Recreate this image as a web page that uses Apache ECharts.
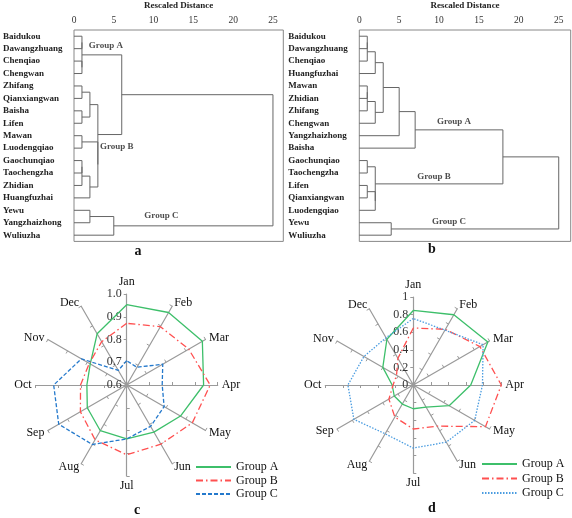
<!DOCTYPE html>
<html><head><meta charset="utf-8">
<script src="https://cdn.jsdelivr.net/npm/echarts@6/dist/echarts.min.js"></script>
<style>html,body{margin:0;padding:0;background:#fff}#c{width:572px;height:518px}</style>
</head><body><div id="c"></div>
<script>
// ---------- data ----------
const ticksDist = [0, 5, 10, 15, 20, 25];
const sitesA = ['Baidukou','Dawangzhuang','Chenqiao','Chengwan','Zhifang','Qianxiangwan','Baisha','Lifen','Mawan','Luodengqiao','Gaochunqiao','Taochengzha','Zhidian','Huangfuzhai','Yewu','Yangzhaizhong','Wuliuzha'];
// merges: [left, right, rescaled distance]; strings = sites, numbers = earlier merge index
const mergesA = [
  ['Baidukou','Dawangzhuang',1], ['Chenqiao','Chengwan',1], [0,1,1],
  ['Zhifang','Qianxiangwan',1], ['Baisha','Lifen',1], [3,4,2],
  ['Mawan','Luodengqiao',1], ['Gaochunqiao','Taochengzha',1], [7,'Zhidian',1], [8,'Huangfuzhai',2],
  [6,9,3], [5,10,3], [2,11,6],
  ['Yewu','Yangzhaizhong',2], [13,'Wuliuzha',5], [12,14,25]
];
const groupsA = [['Group A',2],['Group B',11],['Group C',14]];

const sitesB = ['Baidukou','Dawangzhuang','Chenqiao','Huangfuzhai','Mawan','Zhidian','Zhifang','Chengwan','Yangzhaizhong','Baisha','Gaochunqiao','Taochengzha','Lifen','Qianxiangwan','Luodengqiao','Yewu','Wuliuzha'];
const mergesB = [
  ['Baidukou','Dawangzhuang',1], [0,'Chenqiao',1], [1,'Huangfuzhai',2],
  ['Mawan','Zhidian',1], [3,'Zhifang',1], [4,'Chengwan',2],
  [2,5,3], [6,'Yangzhaizhong',5], [7,'Baisha',7],
  ['Gaochunqiao','Taochengzha',1], ['Lifen','Qianxiangwan',1], [10,'Luodengqiao',2], [9,11,2],
  [8,12,18], ['Yewu','Wuliuzha',4], [13,14,25]
];
const groupsB = [['Group A',8],['Group B',12],['Group C',14]];

const months = ['Jan','Feb','Mar','Apr','May','Jun','Jul','Aug','Sep','Oct','Nov','Dec'];
const groupNames = ['Group A','Group B','Group C'];
const cGroupA = [0.953,0.968,0.984,0.938,0.873,0.839,0.837,0.832,0.800,0.775,0.785,0.860];
const cGroupB = [0.871,0.896,0.915,0.967,0.933,0.900,0.907,0.878,0.835,0.803,0.790,0.820];
const cGroupC = [0.707,0.690,0.783,0.756,0.790,0.810,0.837,0.902,0.945,0.921,0.830,0.674];
const cScale = [0.6, 1.0];
const dGroupA = [0.847,0.922,0.978,0.653,0.470,0.290,0.270,0.250,0.250,0.240,0.400,0.600];
const dGroupB = [0.648,0.730,0.874,1.000,0.947,0.540,0.500,0.420,0.320,0.230,0.220,0.350];
const dGroupC = [0.756,0.720,0.916,0.786,0.805,0.750,0.717,0.640,0.780,0.743,0.648,0.620];
const dScale = [0, 1];

// ---------- helpers ----------
function buildTree(sites, merges) {
  const pos = {}; sites.forEach((s, i) => pos[s] = i);
  const nodes = [], segs = [], parentH = [];
  const get = ref => typeof ref === 'string' ? {y: pos[ref], h: 0} : nodes[ref];
  merges.forEach(([l, r, h]) => {
    const L = get(l), R = get(r);
    segs.push([h, L.y, R.y, L.h, R.h]);
    nodes.push({y: (L.y + R.y) / 2, h: h});
    [l, r].forEach(ref => { if (typeof ref === 'number') parentH[ref] = h; });
  });
  return {segs, nodes, parentH};
}
const SERIF = 'Liberation Serif, Times New Roman, serif';
const treeA = buildTree(sitesA, mergesA);
const treeB = buildTree(sitesB, mergesB);

function groupLabels(tree, groups, offsets) {
  return groups.map(([name, idx], k) => ({
    name: name,
    value: [(tree.nodes[idx].h + tree.parentH[idx]) / 2, tree.nodes[idx].y],
    label: {offset: offsets[k]}
  }));
}

function dendroAxes(gi, sites, xmax) {
  return {
    x: {
      type: 'value', gridIndex: gi, position: 'top', min: 0, max: xmax, interval: 5,
      name: 'Rescaled Distance', nameLocation: 'middle', nameGap: 20,
      nameTextStyle: {fontFamily: SERIF, fontWeight: 'bold', fontSize: 9, color: '#222'},
      axisLine: {show: false}, axisTick: {show: false}, splitLine: {show: false},
      axisLabel: {fontFamily: SERIF, fontSize: 9.5, color: '#333', margin: 5, showMaxLabel: false,
        formatter: v => ticksDist.indexOf(v) >= 0 ? String(v) : ''}
    },
    yCat: {
      type: 'category', gridIndex: gi, data: sites, inverse: true, boundaryGap: true,
      axisLine: {show: false}, axisTick: {show: false},
      axisLabel: {align: 'left', margin: 71, fontFamily: SERIF, fontWeight: 'bold', fontSize: 9, color: '#222', interval: 0}
    },
    yVal: {type: 'value', gridIndex: gi, min: -0.5, max: sites.length - 0.5, inverse: true, show: false}
  };
}
const axA = dendroAxes(0, sitesA, 26.3);
const axB = dendroAxes(1, sitesB, 26.5);

function renderDendro(params, api) {
  const h = api.value(0), yL = api.value(1), yR = api.value(2), hL = api.value(3), hR = api.value(4);
  const pts = [api.coord([hL, yL]), api.coord([h, yL]), api.coord([h, yR]), api.coord([hR, yR])];
  return {type: 'polyline', shape: {points: pts}, style: {stroke: '#666', lineWidth: 1, fill: null}};
}

// radar: ECharts goes counter-clockwise, so reverse order after Jan
const order = [0].concat(months.slice(1).map((m, i) => 11 - i));
const reorder = arr => order.map(i => arr[i]);

function radarCfg(center, radius, scale, split, fmt) {
  return {
    center: center, radius: radius, splitNumber: split,
    indicator: reorder(months).map((m, i) => ({
      name: m, min: scale[0], max: scale[1],
      axisLabel: {show: i === 0}
    })),
    axisName: {color: '#111', fontFamily: SERIF, fontSize: 12},
    nameGap: 4,
    splitLine: {show: false}, splitArea: {show: false},
    axisLine: {lineStyle: {color: '#9a9a9a', width: 1.2}},
    axisTick: {show: true, length: 3, lineStyle: {color: '#9a9a9a'}},
    axisLabel: {show: false, fontFamily: SERIF, fontSize: 12, color: '#333', margin: 5, formatter: fmt}
  };
}

const styleC = [
  {color: '#3dbf6a', type: 'solid'},
  {color: '#ff5050', type: [7, 3, 1.5, 3]},
  {color: '#2479cc', type: [4, 2]}
];
const styleD = [
  {color: '#3dbf6a', type: 'solid'},
  {color: '#ff5050', type: [7, 3, 1.5, 3]},
  {color: '#4a9ce0', type: [1.5, 1.5]}
];

function radarSeries(ri, vals, styles) {
  return {
    type: 'radar', radarIndex: ri, symbol: 'none', silent: true,
    data: vals.map((v, k) => ({
      name: groupNames[k], value: reorder(v),
      lineStyle: {color: styles[k].color, type: styles[k].type, width: 1.3},
      itemStyle: {color: styles[k].color}
    }))
  };
}
function legendSeries(prefix, styles) {
  return styles.map((s, k) => ({
    type: 'line', name: prefix + groupNames[k], data: [], xAxisIndex: 0, yAxisIndex: 1,
    symbol: 'none', color: s.color, lineStyle: {color: s.color, type: s.type, width: 1.3}
  }));
}

const chart = echarts.init(document.getElementById('c'), null, {renderer: 'canvas'});
chart.setOption({
  backgroundColor: '#fff',
  animation: false,
  grid: [
    {left: 73.3, top: 25.7, width: 210, height: 215.7, show: true, borderColor: '#888', borderWidth: 1, containLabel: false},
    {left: 359.3, top: 25.7, width: 211.4, height: 215.7, show: true, borderColor: '#888', borderWidth: 1, containLabel: false}
  ],
  xAxis: [axA.x, axB.x],
  yAxis: [axA.yCat, axA.yVal, axB.yCat, axB.yVal],
  radar: [
    radarCfg([126.7, 385], 91, cScale, 4, v => Number(v).toFixed(1)),
    radarCfg([413.3, 385], 88, dScale, 5, v => String(parseFloat(Number(v).toFixed(2))))
  ],
  legend: [
    {orient: 'vertical', left: 195, top: 461, itemWidth: 35, itemHeight: 10, itemGap: 1.5, padding: 0,
     data: groupNames, selectedMode: false, itemStyle: {opacity: 0},
     textStyle: {fontFamily: SERIF, fontSize: 12, color: '#111'}},
    {orient: 'vertical', left: 481, top: 458, itemWidth: 35, itemHeight: 10, itemGap: 2.5, padding: 0,
     data: groupNames.map(n => 'd:' + n), selectedMode: false, itemStyle: {opacity: 0},
     formatter: n => n.replace(/^d:/, ''),
     textStyle: {fontFamily: SERIF, fontSize: 12, color: '#111'}}
  ],
  graphic: [
    {type: 'text', x: 138, y: 251, style: {text: 'a', font: 'bold 14px ' + SERIF, fill: '#111', align: 'center', verticalAlign: 'middle'}},
    {type: 'text', x: 432, y: 249, style: {text: 'b', font: 'bold 14px ' + SERIF, fill: '#111', align: 'center', verticalAlign: 'middle'}},
    {type: 'text', x: 137, y: 510, style: {text: 'c', font: 'bold 14px ' + SERIF, fill: '#111', align: 'center', verticalAlign: 'middle'}},
    {type: 'text', x: 432, y: 508, style: {text: 'd', font: 'bold 14px ' + SERIF, fill: '#111', align: 'center', verticalAlign: 'middle'}}
  ],
  series: [
    ...legendSeries('', styleC),
    ...legendSeries('d:', styleD),
    {type: 'custom', xAxisIndex: 0, yAxisIndex: 1, renderItem: renderDendro, data: treeA.segs,
     encode: {x: [0, 3, 4], y: [1, 2]}, silent: true},
    {type: 'custom', xAxisIndex: 1, yAxisIndex: 3, renderItem: renderDendro, data: treeB.segs,
     encode: {x: [0, 3, 4], y: [1, 2]}, silent: true},
    {type: 'scatter', xAxisIndex: 0, yAxisIndex: 1, symbolSize: 1, itemStyle: {color: 'transparent'}, silent: true,
     label: {show: true, position: 'inside', formatter: '{b}', fontFamily: SERIF, fontWeight: 'bold', fontSize: 9, color: '#222'},
     data: groupLabels(treeA, groupsA, [[4, -9], [7, 12], [-32, -10]])},
    {type: 'scatter', xAxisIndex: 1, yAxisIndex: 3, symbolSize: 1, itemStyle: {color: 'transparent'}, silent: true,
     label: {show: true, position: 'inside', formatter: '{b}', fontFamily: SERIF, fontWeight: 'bold', fontSize: 9, color: '#222'},
     data: groupLabels(treeB, groupsB, [[-5, -8], [-5, -7], [-26, -7]])},
    radarSeries(0, [cGroupA, cGroupB, cGroupC], styleC),
    radarSeries(1, [dGroupA, dGroupB, dGroupC], styleD)
  ]
});
</script></body></html>
